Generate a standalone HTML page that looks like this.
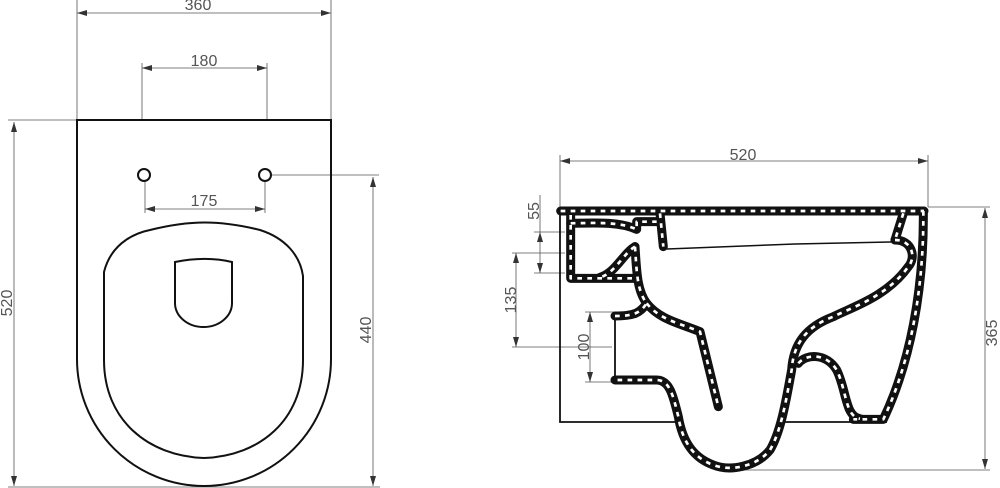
<!DOCTYPE html>
<html><head><meta charset="utf-8"><style>
html,body{margin:0;padding:0;background:#fff;}
svg{display:block;}
text{font-family:"Liberation Sans",sans-serif;font-size:16px;fill:#555;}
</style></head><body>
<svg width="1000" height="488" viewBox="0 0 1000 488" xmlns="http://www.w3.org/2000/svg">
<defs>
<marker id="a" markerWidth="10" markerHeight="6" refX="10" refY="3" orient="auto-start-reverse" markerUnits="userSpaceOnUse"><path d="M0,0 L10,3 L0,6 Z" fill="#333"/></marker>
<g id="walls">
<path d="M182,63 L1272,63"/>
<path d="M212,75 L212,265 L400,265"/>
<path d="M212,100 C300,98 360,96 410,118 L410,95 L470,95"/>
<path d="M480,70 L490,170"/>
<path d="M1210,70 L1185,150"/>
<path d="M1270,63 C1272,300 1230,520 1150,688 L1060,688"/>
<path d="M1185,150 C1235,150 1250,200 1225,230 C1160,320 1060,350 1000,380 C920,410 880,460 875,540 C860,620 845,720 810,780 C770,830 690,845 640,825 C570,800 545,740 535,680 C520,620 510,570 470,570 L345,570"/>
<path d="M895,520 C920,490 980,490 1010,540 C1040,600 1035,680 1080,686"/>
<path d="M405,170 C410,240 410,300 440,340 C420,370 400,378 345,378"/>
<path d="M440,340 C480,390 540,400 600,425 L655,650"/>
<path d="M405,170 C370,190 345,250 300,262"/>
</g>
</defs>
<g stroke="#555" stroke-width="0.8" fill="none">
<line x1="77" y1="0" x2="77" y2="120"/><line x1="331" y1="0" x2="331" y2="120"/>
<line x1="77" y1="13" x2="331" y2="13" marker-start="url(#a)" marker-end="url(#a)"/>
<line x1="142" y1="63" x2="142" y2="120"/><line x1="267" y1="63" x2="267" y2="120"/>
<line x1="142" y1="68" x2="267" y2="68" marker-start="url(#a)" marker-end="url(#a)"/>
<line x1="145" y1="182" x2="145" y2="213"/><line x1="265" y1="182" x2="265" y2="213"/>
<line x1="145" y1="209" x2="265" y2="209" marker-start="url(#a)" marker-end="url(#a)"/>
<line x1="8" y1="120" x2="77" y2="120"/><line x1="8" y1="487" x2="380" y2="487"/>
<line x1="14" y1="122" x2="14" y2="486" marker-start="url(#a)" marker-end="url(#a)"/>
<line x1="271" y1="175" x2="379" y2="175"/>
<line x1="373" y1="177" x2="373" y2="486" marker-start="url(#a)" marker-end="url(#a)"/>
<line x1="560" y1="155" x2="560" y2="207"/><line x1="928" y1="155" x2="928" y2="207"/>
<line x1="560" y1="161" x2="928" y2="161" marker-start="url(#a)" marker-end="url(#a)"/>
<line x1="534" y1="232" x2="565" y2="232"/><line x1="534" y1="273" x2="565" y2="273"/>
<line x1="540" y1="232" x2="540" y2="273" marker-start="url(#a)" marker-end="url(#a)"/>
<line x1="540" y1="195" x2="540" y2="232"/>
<line x1="512" y1="253" x2="565" y2="253"/>
<line x1="516" y1="253" x2="516" y2="347" marker-start="url(#a)" marker-end="url(#a)"/>
<line x1="512" y1="347" x2="612" y2="347"/>
<line x1="585" y1="312" x2="615" y2="312"/><line x1="585" y1="382" x2="615" y2="382"/>
<line x1="590" y1="312" x2="590" y2="382" marker-start="url(#a)" marker-end="url(#a)"/>
<line x1="928" y1="207" x2="990" y2="207"/><line x1="730" y1="470" x2="990" y2="470"/>
<line x1="985" y1="208" x2="985" y2="469" marker-start="url(#a)" marker-end="url(#a)"/>
</g>
<g>
<text x="198" y="10" text-anchor="middle">360</text>
<text x="204" y="66" text-anchor="middle">180</text>
<text x="204" y="206" text-anchor="middle">175</text>
<text transform="translate(12,303) rotate(-90)" text-anchor="middle">520</text>
<text transform="translate(371,330) rotate(-90)" text-anchor="middle">440</text>
<text x="743" y="160" text-anchor="middle">520</text>
<text transform="translate(539,211) rotate(-90)" text-anchor="middle">55</text>
<text transform="translate(516,300) rotate(-90)" text-anchor="middle">135</text>
<text transform="translate(589,347) rotate(-90)" text-anchor="middle">100</text>
<text transform="translate(997,333) rotate(-90)" text-anchor="middle">365</text>
</g>
<g stroke="#111" stroke-width="2" fill="none">
<path d="M77,120 L331,120 L331,359 A127,127 0 0 1 77,359 Z"/>
<path d="M104,272 C112,240 140,232 150,230 C190,220 220,220 260,230 C285,238 300,255 303,276 L303,360 C303,420 260,456 204,458 C148,456 104,420 104,360 Z"/>
<path d="M175,262 C195,258 215,258 232,262 L232,303 A28.5,24 0 0 1 175,303 Z"/>
<circle cx="144" cy="175" r="6"/><circle cx="265" cy="175" r="6"/>
</g>
<g fill="none">
<path d="M560,207 L560,422 L677,422 M783,422 L887,422" stroke="#111" stroke-width="1.8"/>
<path d="M615,316 L615,383" stroke="#111" stroke-width="1.8"/>
<path d="M667,249 L795,244 L892,242" stroke="#111" stroke-width="1.5"/>
<g transform="translate(500,190) scale(0.33333)" stroke-linejoin="round">
<use href="#walls" stroke="#111" stroke-width="27" stroke-linecap="round"/>
<use href="#walls" stroke="#fff" stroke-width="8" stroke-dasharray="14 16" stroke-linecap="butt"/>
</g>
</g>
</svg>
</body></html>
